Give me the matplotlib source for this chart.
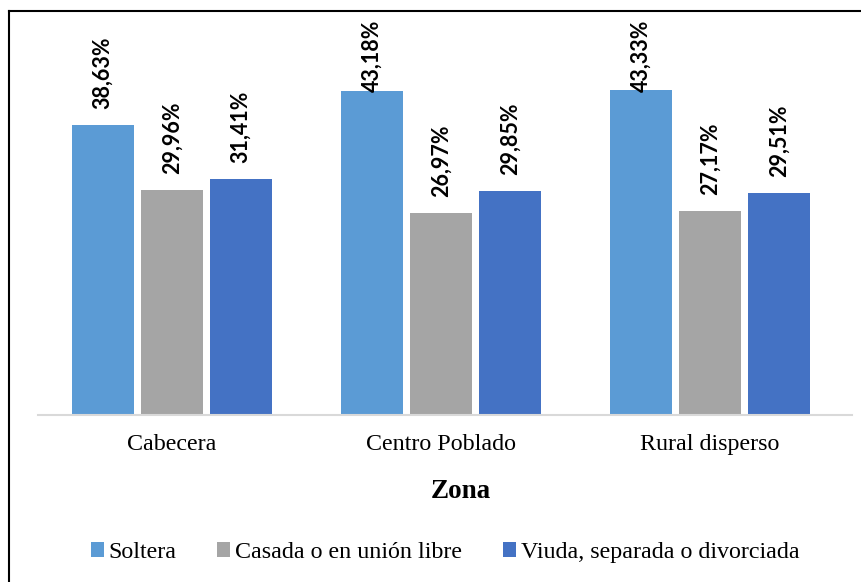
import numpy as np
import matplotlib.pyplot as plt
from matplotlib.lines import Line2D

zonas = ['Cabecera', 'Centro Poblado', 'Rural disperso']
series = ['Soltera', 'Casada o en unión libre', 'Viuda, separada o divorciada']
soltera = [38.63, 43.18, 43.33]
casada = [29.96, 26.97, 27.17]
viuda = [31.41, 29.85, 29.51]
colores = ['#5B9BD5', '#A5A5A5', '#4472C4']

W, H = 861, 582
fig = plt.figure(figsize=(W / 100, H / 100), dpi=100)
ax = fig.add_axes([38 / W, (H - 415) / H, 814 / W, 375.4 / H])

x = np.arange(len(zonas))
ancho = 0.23
paso = 0.2565
techo = 52.6   # limite superior del area del grafico (en unidades de datos)
largo = 11.8   # largo aprox. de la etiqueta + separacion (unidades de datos)
for i, (nombre, valores) in enumerate(zip(series, [soltera, casada, viuda])):
    barras = ax.bar(x + (i - 1) * paso, valores, ancho, color=colores[i], label=nombre)
    for b, v in zip(barras, valores):
        xc = b.get_x() + b.get_width() / 2
        txt = f'{v:.2f}%'.replace('.', ',')
        if v + largo > techo:
            # como en Excel: la etiqueta se queda dentro del area y pisa la barra
            ax.annotate(txt, (xc, techo), ha='center', va='top', rotation=90,
                        fontsize=15.5, fontweight='bold', family='Lato',
                        annotation_clip=False)
        else:
            ax.annotate(txt, (xc, v), xytext=(0, 11.5), textcoords='offset points',
                        ha='center', va='bottom', rotation=90,
                        fontsize=15.5, fontweight='bold', family='Lato')

ax.set_xlim(-0.498, 2.528)
ax.set_ylim(0, 50)
ax.set_yticks([])
ax.set_xticks(x)
ax.set_xticklabels(zonas, family='Liberation Serif', fontsize=17.3)
ax.tick_params(axis='x', length=0, pad=14)
for s in ['top', 'right', 'left']:
    ax.spines[s].set_visible(False)
ax.spines['bottom'].set_color('#D9D9D9')
ax.spines['bottom'].set_linewidth(1.5)

fig.text(461 / W, 1 - 491 / H, 'Zona', ha='center', va='center',
         family='Liberation Serif', fontweight='bold', fontsize=19.5)

fig.legend(loc='center', bbox_to_anchor=(445 / W, 1 - 552.5 / H), ncol=3,
           frameon=False, prop={'family': 'Liberation Serif', 'size': 17.3},
           handlelength=0.54, handleheight=0.54, handletextpad=0.2,
           columnspacing=1.7, borderpad=0, borderaxespad=0)

# marco de la figura (solo izquierda y arriba quedan dentro de la imagen)
fig.add_artist(Line2D([8.5 / W, 8.5 / W], [0, 1 - 11 / H], color='black', lw=1.5))
fig.add_artist(Line2D([8.5 / W, 1], [1 - 11 / H, 1 - 11 / H], color='black', lw=1.5))

fig.savefig('out.png', dpi=100)
